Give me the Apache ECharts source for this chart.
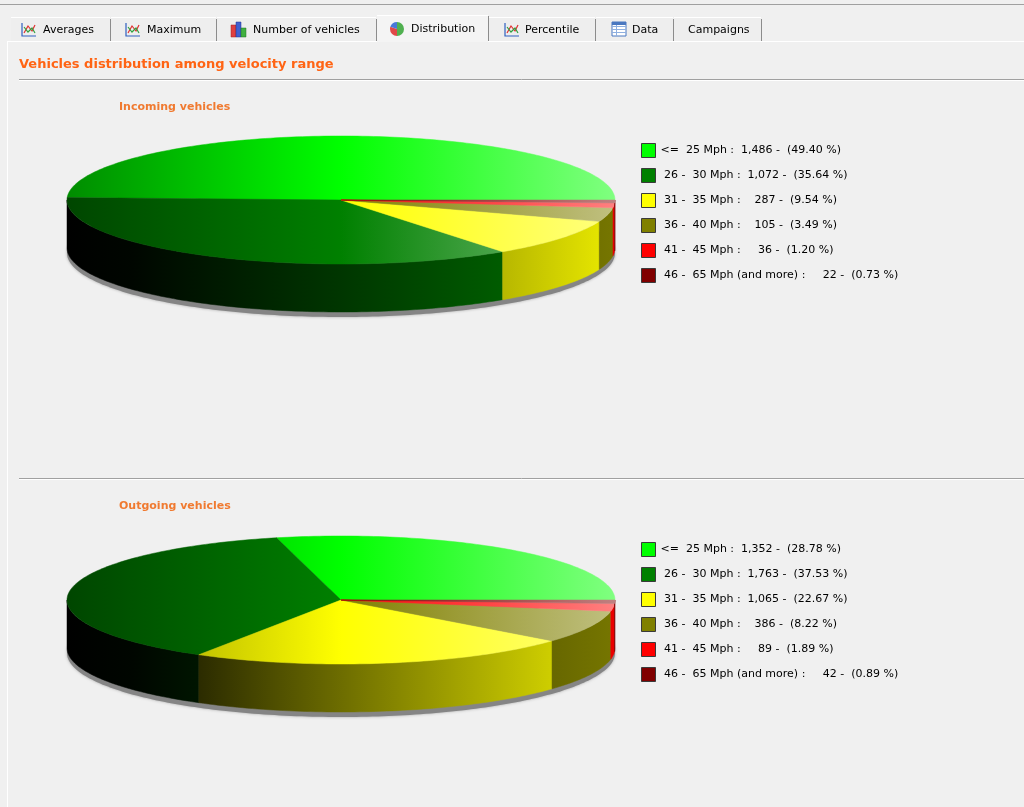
<!DOCTYPE html>
<html lang="en" style="height: 100%">
<head>
  <meta charset="utf-8">
</head>
<body style="height: 100%; margin: 0; background: #f0f0f0">
  <div id="container" style="height: 100%"></div>
  <script type="text/javascript" src="https://cdn.jsdelivr.net/npm/echarts@6/dist/echarts.min.js"></script>
  <script type="text/javascript">
    // velocity ranges, shared by both charts
    var ranges = ['<=  25', ' 26 -  30', ' 31 -  35', ' 36 -  40', ' 41 -  45', ' 46 -  65'];
    var rangeSuffix = [' Mph', ' Mph', ' Mph', ' Mph', ' Mph', ' Mph (and more)'];
    var sliceColors = ['#00ff00', '#008000', '#ffff00', '#808000', '#ff0000', '#800000'];
    var incoming = [1486, 1072, 287, 105, 36, 22];
    var outgoing = [1352, 1763, 1065, 386, 89, 42];
    var tabs = ['Averages', 'Maximum', 'Number of vehicles', 'Distribution', 'Percentile', 'Data', 'Campaigns'];
    var tabIcons = ['line', 'line', 'bar', 'pie', 'line', 'table', null];

    var names = ranges.map(function (r, i) { return r + rangeSuffix[i]; });

    var dom = document.getElementById('container');
    var myChart = echarts.init(dom, null, { renderer: 'canvas' });

    // pie geometry (pixels)
    var RX = 274, RY = 64, DEPTH = 48, PIE_X = 341;

    function sum(arr) { return arr.reduce(function (a, b) { return a + b; }, 0); }
    function rgb(hex) {
      var n = parseInt(hex.slice(1), 16);
      return [n >> 16 & 255, n >> 8 & 255, n & 255];
    }
    function shade(hex, k) {
      return 'rgb(' + rgb(hex).map(function (v) { return Math.round(v * k); }).join(',') + ')';
    }
    function tint(hex, k) {
      return 'rgb(' + rgb(hex).map(function (v) { return Math.round(v + (255 - v) * k); }).join(',') + ')';
    }
    function ellipsePts(cy, a0, a1, dy) {
      var n = Math.max(2, Math.ceil((a1 - a0) / 0.02));
      var pts = [];
      for (var j = 0; j <= n; j++) {
        var a = a0 + (a1 - a0) * j / n;
        pts.push([PIE_X + RX * Math.cos(a), cy - RY * Math.sin(a) + dy]);
      }
      return pts;
    }

    function pie3d(values, cy) {
      var total = sum(values);
      return {
        type: 'custom',
        coordinateSystem: 'none',
        silent: true,
        data: values.map(function (v, i) { return { name: names[i], value: [v] }; }),
        renderItem: function (params, api) {
          var i = params.dataIndex;
          var start = 0;
          for (var k = 0; k < i; k++) start += values[k];
          var a0 = start / total * 2 * Math.PI;
          var a1 = (start + api.value(0)) / total * 2 * Math.PI;
          var c = sliceColors[i];
          var children = [];
          if (i === 0) {
            // grey shadow under the disc
            children.push({
              type: 'polygon',
              shape: { points: ellipsePts(cy, 0, 2 * Math.PI, DEPTH + 5) },
              style: { fill: '#858585', shadowBlur: 3, shadowColor: 'rgba(0,0,0,0.3)' }
            });
          }
          var s = Math.max(a0, Math.PI), e = Math.min(a1, 2 * Math.PI);
          if (e > s) {
            var side = ellipsePts(cy, s, e, 0).concat(ellipsePts(cy, s, e, DEPTH).reverse());
            var sideFill = new echarts.graphic.LinearGradient(PIE_X - RX, 0, PIE_X + RX, 0, [
              { offset: 0, color: '#000' },
              { offset: 0.12, color: shade(c, 0.05) },
              { offset: 1, color: shade(c, 0.92) }
            ], true);
            children.push({
              type: 'polygon',
              shape: { points: side },
              style: { fill: sideFill, stroke: sideFill, lineWidth: 0.5 }
            });
          }
          var topFill = new echarts.graphic.LinearGradient(PIE_X - RX, 0, PIE_X + RX, 0, [
            { offset: 0, color: shade(c, 0.55) },
            { offset: 0.5, color: c },
            { offset: 1, color: tint(c, 0.5) }
          ], true);
          children.push({
            type: 'polygon',
            shape: { points: [[PIE_X, cy]].concat(ellipsePts(cy, a0, a1, 0)) },
            style: { fill: topFill, stroke: topFill, lineWidth: 0.5 }
          });
          return { type: 'group', children: children };
        }
      };
    }

    function legendText(values) {
      var total = sum(values);
      return function (name) {
        var i = names.indexOf(name);
        var v = values[i];
        var num = v.toLocaleString('en-US');
        while (num.length < 5) num = ' ' + num;
        return name + ' :  ' + num + ' -  (' + (v / total * 100).toFixed(2) + ' %)';
      };
    }

    function legendAt(top, values) {
      return {
        orient: 'vertical',
        left: 641,
        top: top,
        padding: 0,
        itemWidth: 14,
        itemHeight: 14,
        itemGap: 10,
        icon: 'rect',
        selectedMode: false,
        data: names,
        itemStyle: { borderColor: '#3a3a3a', borderWidth: 1 },
        textStyle: { fontFamily: 'DejaVu Sans', fontSize: 11, color: '#000' },
        formatter: legendText(values)
      };
    }

    // tab strip and panel chrome
    var tabEdges = [10, 110, 216, 376, 488, 595, 673, 761];
    var tabTextX = [43, 147, 253, 411, 525, 632, 688];
    var tabIconX = [22, 126, 231, 390, 505, 612, 0];
    var chrome = [
      { type: 'line', shape: { x1: 0, y1: 4.5, x2: 1024, y2: 4.5 }, style: { stroke: '#a0a0a0', lineWidth: 1 } },
      { type: 'line', shape: { x1: 7.5, y1: 41, x2: 7.5, y2: 807 }, style: { stroke: '#ffffff', lineWidth: 1 } },
      { type: 'line', shape: { x1: 8, y1: 41.5, x2: 1024, y2: 41.5 }, style: { stroke: '#ffffff', lineWidth: 1 } }
    ];
    function lineIcon(x) {
      return [
        { type: 'polyline', shape: { points: [[x, 23], [x, 36], [x + 14, 36]] }, style: { stroke: '#3060c0', lineWidth: 1.2, fill: null } },
        { type: 'polyline', shape: { points: [[x + 2, 33], [x + 6, 26], [x + 10, 31], [x + 13, 25]] }, style: { stroke: '#e03030', lineWidth: 1.2, fill: null } },
        { type: 'polyline', shape: { points: [[x + 2, 27], [x + 6, 32], [x + 10, 28], [x + 13, 33]] }, style: { stroke: '#30a040', lineWidth: 1.2, fill: null } }
      ];
    }
    tabs.forEach(function (t, i) {
      var x0 = tabEdges[i], x1 = tabEdges[i + 1];
      var sel = i === 3;
      chrome.push({ type: 'rect', shape: { x: x0 + 1, y: sel ? 15 : 17, width: x1 - x0 - 1, height: sel ? 27 : 24 }, style: { fill: sel ? '#f4f4f4' : '#eeeeee' } });
      chrome.push({ type: 'line', shape: { x1: x0 + 1, y1: sel ? 15.5 : 17.5, x2: x1, y2: sel ? 15.5 : 17.5 }, style: { stroke: '#ffffff', lineWidth: 1 } });
      chrome.push({ type: 'line', shape: { x1: x1 + 0.5, y1: sel ? 16 : 19, x2: x1 + 0.5, y2: 41 }, style: { stroke: '#8c8c8c', lineWidth: 1 } });
      chrome.push({ type: 'text', x: tabTextX[i], y: sel ? 29 : 30, style: { text: t, fontFamily: 'DejaVu Sans', fontSize: 11, fill: '#000', verticalAlign: 'middle' } });
      var ix = tabIconX[i];
      if (tabIcons[i] === 'line') {
        chrome = chrome.concat(lineIcon(ix));
      } else if (tabIcons[i] === 'bar') {
        chrome.push({ type: 'rect', shape: { x: ix, y: 25, width: 5, height: 12 }, style: { fill: '#e04040', stroke: '#a02020', lineWidth: 0.5 } });
        chrome.push({ type: 'rect', shape: { x: ix + 5, y: 22, width: 5, height: 15 }, style: { fill: '#4060d0', stroke: '#203090', lineWidth: 0.5 } });
        chrome.push({ type: 'rect', shape: { x: ix + 10, y: 28, width: 5, height: 9 }, style: { fill: '#40b040', stroke: '#207020', lineWidth: 0.5 } });
      } else if (tabIcons[i] === 'pie') {
        chrome.push({ type: 'sector', shape: { cx: ix + 7, cy: 29, r: 7, startAngle: -Math.PI / 2, endAngle: Math.PI / 2 }, style: { fill: '#50b050' } });
        chrome.push({ type: 'sector', shape: { cx: ix + 7, cy: 29, r: 7, startAngle: Math.PI / 2, endAngle: Math.PI * 1.1 }, style: { fill: '#e04848' } });
        chrome.push({ type: 'sector', shape: { cx: ix + 7, cy: 29, r: 7, startAngle: Math.PI * 1.1, endAngle: Math.PI * 1.5 }, style: { fill: '#4878d8' } });
      } else if (tabIcons[i] === 'table') {
        chrome.push({ type: 'rect', shape: { x: ix, y: 22, width: 14, height: 14 }, style: { fill: '#ffffff', stroke: '#4a78c0', lineWidth: 1 } });
        chrome.push({ type: 'rect', shape: { x: ix, y: 22, width: 14, height: 3 }, style: { fill: '#4a78c0' } });
        [26.5, 29.5, 32.5].forEach(function (y) {
          chrome.push({ type: 'line', shape: { x1: ix, y1: y, x2: ix + 14, y2: y }, style: { stroke: '#8fb0e0', lineWidth: 1 } });
        });
        chrome.push({ type: 'line', shape: { x1: ix + 4.5, y1: 25, x2: ix + 4.5, y2: 36 }, style: { stroke: '#8fb0e0', lineWidth: 1 } });
      }
    });
    // section rules
    [79.5, 478.5].forEach(function (y) {
      chrome.push({ type: 'line', shape: { x1: 19, y1: y, x2: 1024, y2: y }, style: { stroke: '#a0a0a0', lineWidth: 1 } });
      chrome.push({ type: 'line', shape: { x1: 19, y1: y + 1, x2: 1024, y2: y + 1 }, style: { stroke: '#ffffff', lineWidth: 1 } });
    });

    var subTitleStyle = { color: '#f07a30', fontSize: 11, fontWeight: 'bold', fontFamily: 'DejaVu Sans' };

    var option = {
      backgroundColor: '#f0f0f0',
      animation: false,
      title: [
        { text: 'Vehicles distribution among velocity range', left: 19, top: 58, padding: 0, textStyle: { color: '#ff6414', fontSize: 13, fontWeight: 'bold', fontFamily: 'DejaVu Sans' } },
        { text: 'Incoming vehicles', left: 119, top: 102, padding: 0, textStyle: subTitleStyle },
        { text: 'Outgoing vehicles', left: 119, top: 501, padding: 0, textStyle: subTitleStyle }
      ],
      legend: [legendAt(143, incoming), legendAt(542, outgoing)],
      graphic: { elements: chrome },
      series: [
        // off-screen pie that only feeds legend colours
        {
          type: 'pie',
          center: [-300, -300],
          radius: 5,
          silent: true,
          label: { show: false },
          data: names.map(function (n, i) { return { name: n, value: incoming[i], itemStyle: { color: sliceColors[i] } }; })
        },
        pie3d(incoming, 200),
        pie3d(outgoing, 600)
      ]
    };

    myChart.setOption(option);
    window.addEventListener('resize', myChart.resize);
  </script>
</body>
</html>
